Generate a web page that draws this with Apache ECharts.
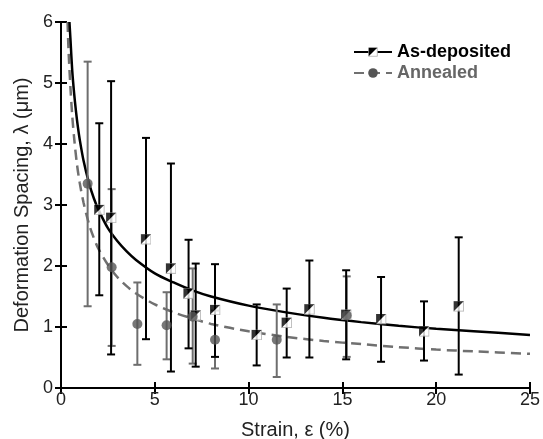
<!DOCTYPE html>
<html>
<head>
<meta charset="utf-8">
<script src="https://cdn.jsdelivr.net/npm/echarts@6/dist/echarts.min.js"></script>
<style>
  html, body { margin: 0; padding: 0; background: #fff; }
  #chart { width: 543px; height: 439px; }
</style>
</head>
<body>
<div id="chart"></div>
<script>
// As-deposited measurements: strain (%), spacing (um), error bar low / high
var depX  = [2.04, 2.67, 4.53, 5.86, 6.8, 7.18, 8.21, 10.43, 12.03, 13.24, 15.2, 17.06, 19.35, 21.2];
var depY  = [2.92, 2.79, 2.44, 1.96, 1.55, 1.19, 1.28, 0.87, 1.07, 1.29, 1.2, 1.13, 0.93, 1.34];
var depLo = [1.52, 0.55, 0.80, 0.27, 0.65, 0.35, 0.51, 0.37, 0.50, 0.50, 0.47, 0.43, 0.45, 0.22];
var depHi = [4.34, 5.03, 4.10, 3.68, 2.43, 2.04, 2.03, 1.37, 1.63, 2.09, 1.93, 1.82, 1.42, 2.47];

// Annealed measurements
var annX  = [1.42, 2.70, 4.07, 5.63, 7.02, 8.21, 11.5, 15.23];
var annY  = [3.35, 1.98, 1.05, 1.03, 1.17, 0.79, 0.79, 1.19];
var annLo = [1.34, 0.69, 0.38, 0.47, 0.40, 0.32, 0.18, 0.51];
var annHi = [5.35, 3.26, 1.73, 1.57, 1.96, 1.27, 1.37, 1.83];

// fitted curves
var depFitX = [0.45, 0.5, 0.6, 0.7, 0.8, 0.9, 1, 1.2, 1.5, 1.75, 2, 2.5, 3, 3.5, 4, 5, 6, 7, 8, 10, 12, 14, 16, 18, 20, 22, 25];
var depFitY = [6.0, 5.74, 5.20, 4.83, 4.53, 4.28, 4.07, 3.73, 3.35, 3.11, 2.92, 2.62, 2.41, 2.24, 2.10, 1.88, 1.73, 1.60, 1.50, 1.35, 1.24, 1.15, 1.08, 1.02, 0.97, 0.93, 0.87];
var annFitX = [0.35, 0.4, 0.5, 0.6, 0.7, 0.85, 1, 1.2, 1.5, 1.75, 2, 2.5, 3, 3.5, 4, 5, 6, 7, 8, 10, 12, 14, 16, 18, 20, 22, 25];
var annFitY = [6.0, 5.55, 4.94, 4.46, 4.10, 3.67, 3.36, 3.04, 2.68, 2.46, 2.28, 2.02, 1.82, 1.67, 1.55, 1.37, 1.24, 1.14, 1.05, 0.93, 0.84, 0.77, 0.72, 0.67, 0.63, 0.60, 0.56];

function zip(a, b, c) {
  return a.map(function (v, i) { return c ? [v, b[i], c[i]] : [v, b[i]]; });
}

var halfSquare = 'image://data:image/svg+xml;charset=utf-8,' + encodeURIComponent(
  "<svg xmlns='http://www.w3.org/2000/svg' width='20' height='20'>" +
  "<rect x='1' y='1' width='18' height='18' fill='#fff' stroke='#aaa' stroke-width='2'/>" +
  "<path d='M1 1 L19 1 L1 19 Z' fill='#000'/></svg>");

function errorBar(color) {
  return function (params, api) {
    var x = api.value(0);
    var lo = api.coord([x, api.value(1)]);
    var hi = api.coord([x, api.value(2)]);
    var cap = 4;
    var st = { stroke: color, lineWidth: 2 };
    return {
      type: 'group',
      children: [
        { type: 'line', shape: { x1: lo[0], y1: lo[1], x2: hi[0], y2: hi[1] }, style: st },
        { type: 'line', shape: { x1: lo[0] - cap, y1: lo[1], x2: lo[0] + cap, y2: lo[1] }, style: st },
        { type: 'line', shape: { x1: hi[0] - cap, y1: hi[1], x2: hi[0] + cap, y2: hi[1] }, style: st }
      ]
    };
  };
}

var chart = echarts.init(document.getElementById('chart'));
var fontName = 'Liberation Sans';
var axisLine = { show: true, lineStyle: { color: '#000', width: 2 } };
var tick = { show: true, inside: true, length: 6, lineStyle: { color: '#000', width: 2 } };

chart.setOption({
  animation: false,
  grid: { left: 61, right: 13, top: 22, bottom: 51, outerBoundsMode: 'none' },
  legend: {
    orient: 'vertical',
    left: 348,
    top: 38,
    itemWidth: 38,
    itemHeight: 12,
    itemGap: 3,
    textStyle: { fontFamily: fontName, fontSize: 18, fontWeight: 'bold' },
    data: [
      { name: 'As-deposited', textStyle: { color: '#000' } },
      { name: 'Annealed', textStyle: { color: '#666' } }
    ]
  },
  xAxis: [{
    type: 'value', min: 0, max: 25, interval: 5,
    axisLine: axisLine, axisTick: tick, splitLine: { show: false },
    axisLabel: { color: '#222', fontFamily: fontName, fontSize: 18, margin: 3 },
    name: 'Strain, \u03b5 (%)', nameLocation: 'middle', nameGap: 32,
    nameTextStyle: { color: '#222', fontFamily: fontName, fontSize: 20 }
  }, {
    type: 'value', min: 0, max: 25, interval: 5, position: 'top',
    axisLine: axisLine, axisTick: tick, axisLabel: { show: false }, splitLine: { show: false }
  }],
  yAxis: [{
    type: 'value', min: 0, max: 6, interval: 1,
    axisLine: axisLine, axisTick: tick, splitLine: { show: false },
    axisLabel: { color: '#222', fontFamily: fontName, fontSize: 18, margin: 8 },
    name: 'Deformation Spacing, \u03bb (\u03bcm)', nameLocation: 'middle', nameGap: 29,
    nameTextStyle: { color: '#222', fontFamily: fontName, fontSize: 20 }
  }, {
    type: 'value', min: 0, max: 6, interval: 1, position: 'right',
    axisLine: axisLine, axisTick: tick, axisLabel: { show: false }, splitLine: { show: false }
  }],
  series: [
    {
      name: 'Annealed', type: 'line', data: zip(annFitX, annFitY),
      smooth: 0.3, showSymbol: false, symbol: 'circle', symbolSize: 9,
      itemStyle: { color: '#555' },
      lineStyle: { color: '#707070', width: 2.5, type: [10, 6] }, z: 2
    },
    {
      name: 'As-deposited', type: 'line', data: zip(depFitX, depFitY),
      smooth: 0.3, showSymbol: false, symbol: halfSquare, symbolSize: 10,
      itemStyle: { color: '#000' },
      lineStyle: { color: '#000', width: 2.5 }, z: 2
    },
    {
      name: 'Annealed', type: 'custom', data: zip(annX, annLo, annHi),
      renderItem: errorBar('#6e6e6e'), z: 3
    },
    {
      name: 'As-deposited', type: 'custom', data: zip(depX, depLo, depHi),
      renderItem: errorBar('#000'), z: 4
    },
    {
      name: 'As-deposited', type: 'scatter', data: zip(depX, depY),
      symbol: halfSquare, symbolSize: 11, z: 5
    },
    {
      name: 'Annealed', type: 'scatter', data: zip(annX, annY),
      symbol: 'circle', symbolSize: 10, itemStyle: { color: '#555' }, z: 6
    }
  ]
});
</script>
</body>
</html>
